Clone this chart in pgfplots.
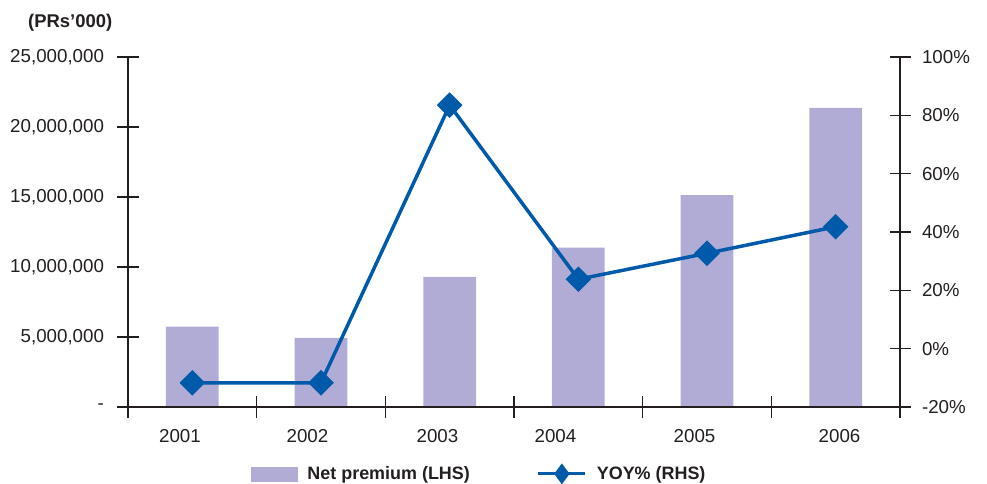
\documentclass[border=0pt]{standalone}
\usepackage{fontspec}
\setmainfont{Liberation Sans}
\usepackage{pgfplots}
\pgfplotsset{compat=1.18}
\definecolor{barcol}{RGB}{176,172,213}
\definecolor{linecol}{RGB}{0,90,170}
\definecolor{axcol}{RGB}{35,31,32}
\begin{document}
\begin{tikzpicture}
\useasboundingbox (-128bp,-77bp) rectangle (859bp,407bp);
\pgfplotsset{
  base/.style={scale only axis, width=772bp, height=350bp, xmin=0.5, xmax=6.5,
    tick align=center, major tick length=21bp,
    every tick label/.append style={font=\fontsize{18.8}{22}\selectfont, text=axcol},
    axis line style={draw=axcol, line width=1.2bp},
    tick style={draw=axcol, line width=1.2bp},
    scaled y ticks=false},
}
\begin{axis}[base, ymin=0, ymax=25000000,
  axis x line*=bottom, axis y line*=left, tick align=center,
  ytick={0,5000000,10000000,15000000,20000000,25000000},
  yticklabels={-,{5,000,000},{10,000,000},{15,000,000},{20,000,000},{25,000,000}},
  yticklabel style={xshift=-10bp},
  xtick={0.5,1.5,2.5,3.5,4.5,5.5,6.5}, xticklabels={,,,,,,},
  xticklabel style={yshift=-8bp},
  extra x ticks={0.904,1.895,2.905,3.822,4.903,6.030},
  extra x tick labels={2001,2002,2003,2004,2005,2006},
  extra x tick style={tick style={draw=none}},
  axis on top]
\addplot[ybar, bar width=0.41, fill=barcol, draw=none] coordinates {
  (1,5740000) (2,4930000) (3,9290000) (4,11380000) (5,15140000) (6,21360000)};
\end{axis}
\begin{axis}[base, ymin=-20, ymax=100,
  axis y line*=right, axis x line=none, tick align=center,
  ytick={-20,0,20,40,60,80,100},
  yticklabels={-20\%,0\%,20\%,40\%,60\%,80\%,100\%},
  yticklabel style={xshift=8bp},
  legend columns=2,
  legend style={at={(0.455,-0.191)}, anchor=center, draw=none, fill=none,
    font=\bfseries\fontsize{18}{21}\selectfont, text=axcol,
    column sep=8bp, /tikz/every even column/.append style={column sep=65bp}}]
\addlegendimage{legend image code/.code={\fill[barcol] (0bp,-7bp) rectangle (46bp,7bp);}}
\addlegendentry{Net premium (LHS)}
\addplot[linecol, line width=3.5bp, mark=square*, mark size=7.3bp, mark options={rotate=45},
  legend image code/.code={\draw[linecol, line width=3bp] (0bp,0bp) -- (47bp,0bp);
    \fill[linecol] (23.5bp,7.5bp) -- (29bp,0bp) -- (23.5bp,-7.5bp) -- (18bp,0bp) -- cycle;}]
  coordinates {(1,-11.7) (2,-11.7) (3,83.5) (4,23.8) (5,32.7) (6,41.8)};
\addlegendentry{YOY\% (RHS)}
\end{axis}
\node[anchor=base west, font=\bfseries\fontsize{18.5}{21}\selectfont, text=axcol, inner sep=0pt] at (-100bp,379bp) {(PRs’000)};
\end{tikzpicture}
\end{document}
